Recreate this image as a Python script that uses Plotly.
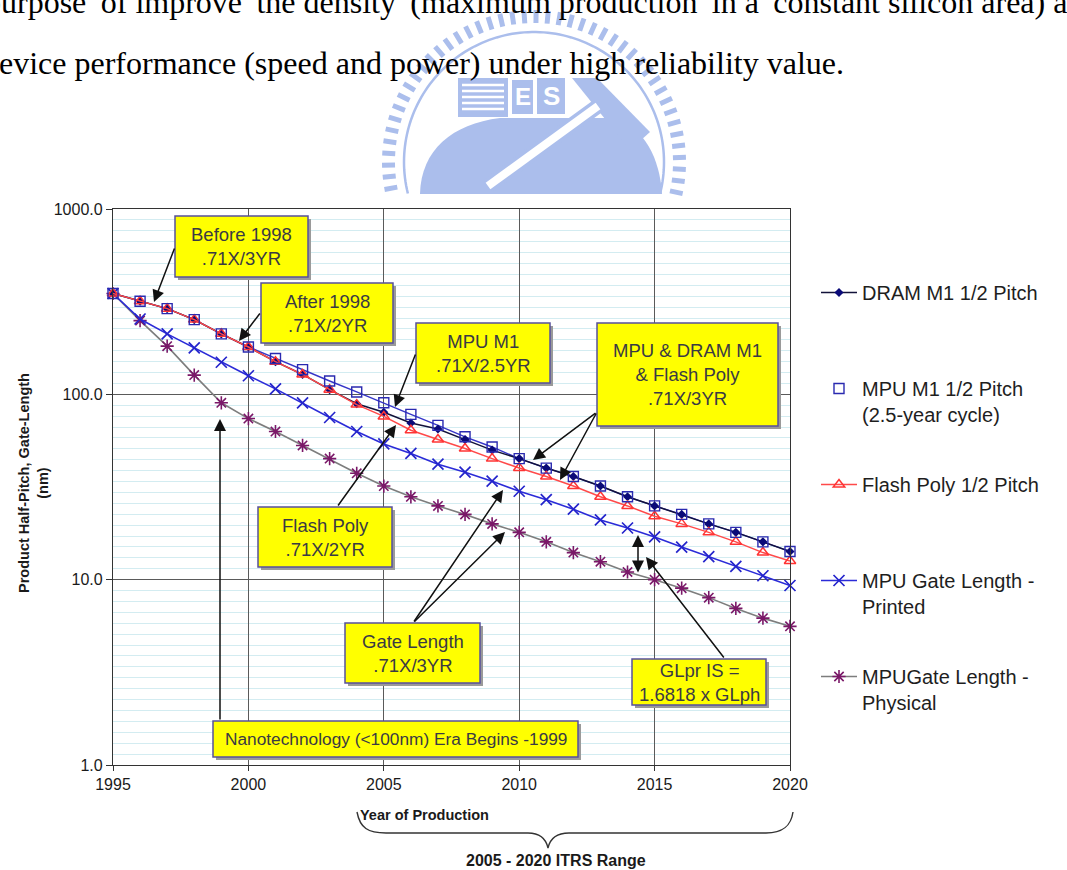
import numpy as np
import plotly.graph_objects as go

# ---------------------------------------------------------------- data
years = list(range(1995, 2021))

dram_m1_half_pitch = [350, 318, 290, 253, 212, 180, 150, 128, 106, 89, 80, 70, 65,
                      57, 50, 45, 40, 36, 32, 28, 25, 22.5, 20, 18, 16, 14.2]
mpu_m1_half_pitch = [350, 318, 290, 253, 212, 180, 156, 136, 118, 103, 90, 78, 68,
                     59, 52, 45, 40, 36, 32, 28, 25, 22.5, 20, 18, 16, 14.2]
flash_poly_half_pitch = [350, 318, 290, 253, 212, 180, 150, 128, 106, 88, 76, 64, 57,
                         51, 45, 40, 36, 32, 28, 25, 22, 20, 18, 16, 14, 12.6]
mpu_gate_printed = [350, 255, 212, 178, 149, 126, 107, 90, 75, 63, 54, 48, 42,
                    38, 34, 30, 27, 24, 21, 19, 17, 15, 13.3, 11.8, 10.5, 9.3]
mpu_gate_physical = [350, 250, 182, 127, 90, 74, 63, 53, 45, 37.5, 32, 28, 25,
                     22.5, 20, 18, 16, 14, 12.5, 11, 10, 9, 8, 7, 6.2, 5.6]

x_tickvals = [1995, 2000, 2005, 2010, 2015, 2020]
y_tickvals = [1, 10, 100, 1000]
y_ticktext = ["1.0", "10.0", "100.0", "1000.0"]

series_names = [
    "DRAM M1 1/2 Pitch<br> ",
    "MPU M1 1/2 Pitch<br>(2.5-year cycle)",
    "Flash Poly 1/2 Pitch<br> ",
    "MPU Gate Length -<br>Printed",
    "MPUGate Length -<br>Physical",
]

# justified paragraph line: every other word gap widened by a thin space
words_line1 = ["purpose", "of", "improve", "the", "density", "(maximum", "production",
               "in", "a", "constant", "silicon", "area)", "and"]
line1 = words_line1[0]
for i, w in enumerate(words_line1[1:]):
    line1 += (" \u2009" if i % 2 == 0 and i < 10 else " ") + w
page_lines = [
    line1,
    "device performance (speed and power) under high reliability value.",
]

# ---------------------------------------------------------------- layout helpers
SANS = "Liberation Sans, Arial, sans-serif"
SERIF = "Liberation Serif, Times New Roman, serif"
W, H = 1067, 870
PL, PR, PT, PB = 113, 790, 209, 765          # plot area edges in pixels


def P(px, py):
    """pixel position -> paper coordinates"""
    return (px - PL) / (PR - PL), (PB - py) / (PB - PT)


def poly_path(points, close=False):
    pts = [P(x, y) for x, y in points]
    s = "M " + " L ".join(f"{x:.5f},{y:.5f}" for x, y in pts)
    return s + (" Z" if close else "")


def bezier_path(start, curves):
    sx, sy = P(*start)
    s = f"M {sx:.5f},{sy:.5f}"
    for seg in curves:
        if len(seg) == 1:
            x, y = P(*seg[0])
            s += f" L {x:.5f},{y:.5f}"
        else:
            s += " C " + " ".join("{:.5f},{:.5f}".format(*P(*p)) for p in seg)
    return s


shapes = []
annotations = []


def text(px, py, txt, size, color="#222222", bold=False, family=SANS,
         xanchor="center", yanchor="middle", angle=0, align="center"):
    x, y = P(px, py)
    if bold:
        txt = f"<b>{txt}</b>"
    annotations.append(dict(x=x, y=y, xref="paper", yref="paper", text=txt,
                            showarrow=False, xanchor=xanchor, yanchor=yanchor,
                            textangle=angle, align=align,
                            font=dict(size=size, color=color, family=family)))


def arrow(head, tail, both=False):
    hx, hy = P(*head)
    annotations.append(dict(x=hx, y=hy, xref="paper", yref="paper", text="",
                            showarrow=True, axref="pixel", ayref="pixel",
                            ax=tail[0] - head[0], ay=tail[1] - head[1],
                            arrowhead=2, arrowsize=1.6, arrowwidth=1.5,
                            arrowcolor="#111111",
                            arrowside="end+start" if both else "end"))


def callout(x0, y0, x1, y1, label, size=18.5):
    a0, b0 = P(x0 + 3, y1 + 3)
    a1, b1 = P(x1 + 3, y0 + 3)
    shapes.append(dict(type="rect", xref="paper", yref="paper", x0=a0, y0=b0,
                       x1=a1, y1=b1, fillcolor="#9a9a9a", line=dict(width=0),
                       layer="above"))
    a0, b0 = P(x0, y1)
    a1, b1 = P(x1, y0)
    shapes.append(dict(type="rect", xref="paper", yref="paper", x0=a0, y0=b0,
                       x1=a1, y1=b1, fillcolor="#ffff00",
                       line=dict(color="#57509c", width=1.5), layer="above"))
    text((x0 + x1) / 2, (y0 + y1) / 2, label, size, color="#3a3a44")


# ---------------------------------------------------------------- watermark seal
SEAL = "#abbeec"
cx, cy = 534, 162
teeth = []
for ang in np.arange(-12, 192.1, 4.6):
    t = np.radians(ang)
    x1, y1 = cx + 139 * np.cos(t), cy - 139 * np.sin(t)
    x2, y2 = cx + 152 * np.cos(t), cy - 152 * np.sin(t)
    a, b = P(x1, y1)
    c, d = P(x2, y2)
    teeth.append(f"M {a:.5f},{b:.5f} L {c:.5f},{d:.5f}")
shapes.append(dict(type="path", xref="paper", yref="paper", path=" ".join(teeth),
                   line=dict(color=SEAL, width=5), layer="below"))
ring = [(cx + 130 * np.cos(t), cy - 130 * np.sin(t))
        for t in np.radians(np.linspace(-14, 194, 120))]
shapes.append(dict(type="path", xref="paper", yref="paper", path=poly_path(ring),
                   line=dict(color=SEAL, width=2.5), layer="below"))
# emblem body
shapes.append(dict(type="path", xref="paper", yref="paper",
                   path=bezier_path((420, 194), [[(421, 150), (452, 124), (500, 118)],
                                                 [(612, 118)],
                                                 [(645, 126), (660, 160), (662, 194)]]) + " Z",
                   fillcolor=SEAL, line=dict(width=0), layer="below"))
for rx0, ry0, rx1, ry1 in [(458, 78, 508, 117), (512, 80, 533, 114), (537, 78, 565, 114)]:
    a0, b0 = P(rx0, ry1)
    a1, b1 = P(rx1, ry0)
    shapes.append(dict(type="rect", xref="paper", yref="paper", x0=a0, y0=b0, x1=a1,
                       y1=b1, fillcolor=SEAL, line=dict(width=0), layer="below"))
stripes = []
for sy in range(85, 113, 6):
    a, b = P(462, sy)
    c, d = P(504, sy)
    stripes.append(f"M {a:.5f},{b:.5f} L {c:.5f},{d:.5f}")
shapes.append(dict(type="path", xref="paper", yref="paper", path=" ".join(stripes),
                   line=dict(color="white", width=2.5), layer="below"))
shapes.append(dict(type="path", xref="paper", yref="paper",
                   path=poly_path([(572, 78), (597, 78), (650, 132), (630, 150)], close=True),
                   fillcolor=SEAL, line=dict(width=0), layer="below"))
shapes.append(dict(type="path", xref="paper", yref="paper",
                   path=poly_path([(598, 106), (488, 186)]),
                   line=dict(color=SEAL, width=15), layer="below"))
shapes.append(dict(type="path", xref="paper", yref="paper",
                   path=poly_path([(598, 106), (488, 186)]),
                   line=dict(color="white", width=8), layer="below"))
text(522.5, 97, "E", 24, color="white", bold=True)
text(551, 96, "S", 26, color="white", bold=True)

# ---------------------------------------------------------------- page text above the chart
text(-17, 2, page_lines[0], 32, color="#000000", family=SERIF, xanchor="left")
text(-19, 63, page_lines[1], 32, color="#000000", family=SERIF, xanchor="left")

# ---------------------------------------------------------------- traces
fig = go.Figure()

fig.add_trace(go.Scatter(
    x=years, y=mpu_gate_physical, name=series_names[4], mode="lines+markers",
    line=dict(color="#7d7d7d", width=1.6),
    marker=dict(symbol="asterisk-open", size=11, color="#7a1868",
                line=dict(color="#7a1868", width=1.6)),
    legendrank=5, legendgroup="g5", cliponaxis=False))

fig.add_trace(go.Scatter(
    x=years, y=mpu_gate_printed, name=series_names[3], mode="lines+markers",
    line=dict(color="#2b2bd8", width=1.6),
    marker=dict(symbol="x-thin-open", size=11, color="#2424cc",
                line=dict(color="#2424cc", width=1.7)),
    legendrank=4, legendgroup="g4", cliponaxis=False))

fig.add_trace(go.Scatter(
    x=years, y=mpu_m1_half_pitch, mode="lines", showlegend=False, hoverinfo="skip",
    line=dict(color="#3535c8", width=1.4), cliponaxis=False))

fig.add_trace(go.Scatter(
    x=years, y=dram_m1_half_pitch, name=series_names[0], mode="lines+markers",
    line=dict(color="#12123a", width=1.5),
    marker=dict(symbol="diamond", size=7, color="#0a0a78"),
    legendrank=1, legendgroup="g1", cliponaxis=False))

fig.add_trace(go.Scatter(
    x=years, y=flash_poly_half_pitch, name=series_names[2], mode="lines+markers",
    line=dict(color="#ff4a4a", width=1.5),
    marker=dict(symbol="triangle-up-open", size=10, color="#ff3434",
                line=dict(color="#ff3434", width=1.5)),
    legendrank=3, legendgroup="g3", cliponaxis=False))

fig.add_trace(go.Scatter(
    x=years, y=mpu_m1_half_pitch, name=series_names[1], mode="markers",
    marker=dict(symbol="square-open", size=10, color="#2a2ab0",
                line=dict(color="#2a2ab0", width=1.4)),
    legendrank=2, legendgroup="g2", cliponaxis=False))

# ---------------------------------------------------------------- callouts
callout(175, 216, 308, 277, "Before 1998<br>.71X/3YR")
callout(261, 283, 393, 343, "After 1998<br>.71X/2YR")
callout(416, 323, 550, 383, "MPU M1<br>.71X/2.5YR")
callout(597, 323, 778, 426, "MPU &amp; DRAM M1<br>&amp; Flash Poly<br>.71X/3YR")
callout(258, 507, 392, 567, "Flash Poly<br>.71X/2YR")
callout(345, 623, 480, 683, "Gate Length<br>.71X/3YR")
callout(632, 659, 766, 705, "GLpr IS =<br>1.6818 x GLph")
callout(213, 721, 578, 757, "Nanotechnology (&lt;100nm) Era Begins -1999", size=17.3)

arrow((154, 302), (175, 247))
arrow((239, 341), (261, 312))
arrow((395, 407), (416, 353))
arrow((533, 460), (597, 412))
arrow((560, 480), (597, 412))
arrow((396, 425), (337, 507))
arrow((503, 490), (413, 623))
arrow((505, 532), (413, 623))
arrow((646, 557), (725, 659))
arrow((638, 535), (638, 574), both=True)
arrow((220, 419), (220, 721))

# ---------------------------------------------------------------- axis titles and range brace
text(33, 483, "Product Half-Pitch, Gate-Length<br>(nm)", 14.5, color="#1a1a1a",
     bold=True, angle=-90)
text(424, 815, "Year of Production", 14.5, color="#1a1a1a", bold=True)
text(556, 860, "2005 - 2020 ITRS Range", 16, color="#1a1a1a", bold=True)
shapes.append(dict(type="path", xref="paper", yref="paper", layer="above",
                   line=dict(color="#333333", width=1.4),
                   path=bezier_path((357, 812), [
                       [(360, 828), (368, 833), (386, 833)],
                       [(528, 833)],
                       [(541, 833), (546, 839), (548, 848)],
                       [(550, 839), (556, 833), (569, 833)],
                       [(766, 833)],
                       [(783, 833), (791, 826), (793, 812)],
                   ])))

# ---------------------------------------------------------------- layout
minor_vals = [10 ** (k / 17) for k in range(0, 52) if k % 17 != 0]

fig.update_layout(
    width=W, height=H, autosize=False,
    margin=dict(l=PL, r=W - PR, t=PT, b=H - PB, pad=0),
    paper_bgcolor="white", plot_bgcolor="white",
    font=dict(family=SANS, color="#1a1a1a"),
    showlegend=True,
    legend=dict(x=P(816, 0)[0], xanchor="left", y=P(0, 273)[1], yanchor="top",
                font=dict(size=20, family=SANS, color="#1e1e1e"),
                bgcolor="rgba(0,0,0,0)", tracegroupgap=41, valign="top",
                itemwidth=36),
    xaxis=dict(range=[1995, 2020], tickmode="array", tickvals=x_tickvals,
               ticks="outside", ticklen=5, tickwidth=1.2, tickcolor="#333333",
               showgrid=True, gridcolor="#5a5a5a", gridwidth=1.3,
               showline=True, linecolor="#333333", linewidth=1.3, mirror=True,
               zeroline=False, tickfont=dict(size=16, family=SANS, color="#1a1a1a")),
    yaxis=dict(type="log", range=[0, 3], tickmode="array", tickvals=y_tickvals,
               ticktext=y_ticktext, ticks="outside", ticklen=6, tickwidth=1.2,
               tickcolor="#333333", showgrid=True, gridcolor="#5a5a5a", gridwidth=1.3,
               showline=True, linecolor="#333333", linewidth=1.3, mirror=True,
               zeroline=False, tickfont=dict(size=16, family=SANS, color="#1a1a1a"),
               minor=dict(tickmode="array", tickvals=minor_vals, showgrid=True,
                          gridcolor="#d3ecf1", gridwidth=1, ticks="")),
    shapes=shapes,
    annotations=annotations,
)

fig.write_html("out.html")
